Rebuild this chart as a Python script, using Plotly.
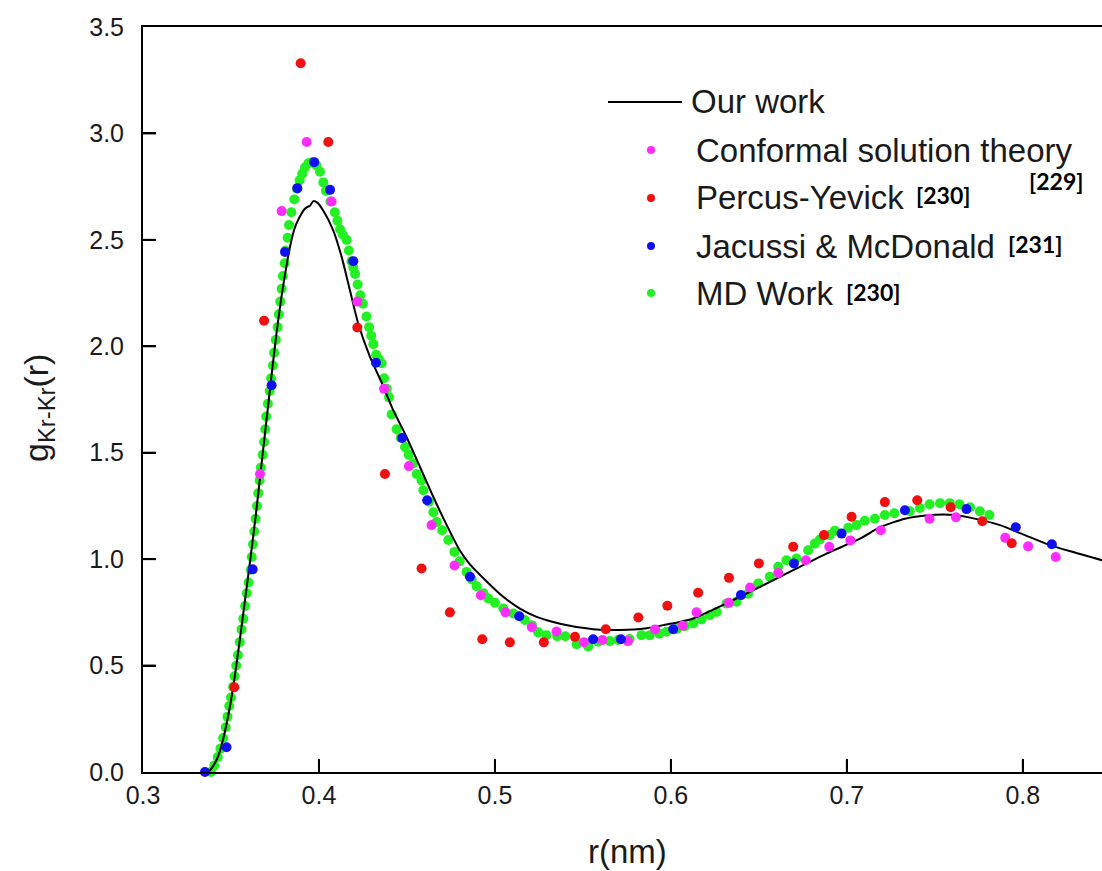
import plotly.graph_objects as go

# ---------------- data ----------------
our_x = [0.333, 0.337, 0.340, 0.343, 0.346, 0.349, 0.352, 0.355, 0.358, 0.361, 0.364, 0.367,
         0.370, 0.373, 0.376, 0.379, 0.382, 0.3835, 0.386, 0.389, 0.392, 0.3935, 0.3949, 0.3968,
         0.399, 0.4024, 0.4081, 0.4129, 0.4176, 0.4223, 0.429, 0.4356, 0.4422, 0.4498, 0.4574,
         0.465, 0.4726, 0.480, 0.4858, 0.4953, 0.5047, 0.5142, 0.5237, 0.5331, 0.5426, 0.5558,
         0.571, 0.5862, 0.5975, 0.6051, 0.6127, 0.6316, 0.6506, 0.6695, 0.6884, 0.7074, 0.7188,
         0.733, 0.745, 0.755, 0.7614, 0.770, 0.787, 0.8005, 0.8153, 0.830, 0.845, 0.850]
our_y = [0.0, 0.0, 0.03, 0.08, 0.17, 0.29, 0.44, 0.62, 0.81, 1.00, 1.20, 1.42,
         1.64, 1.86, 2.07, 2.25, 2.40, 2.466, 2.55, 2.607, 2.646, 2.655, 2.66, 2.682,
         2.675, 2.638, 2.545, 2.42, 2.263, 2.107, 1.95, 1.83, 1.70, 1.574, 1.433,
         1.292, 1.16, 1.042, 0.975, 0.895, 0.823, 0.768, 0.729, 0.705, 0.687, 0.671,
         0.667, 0.675, 0.693, 0.705, 0.721, 0.792, 0.87, 0.948, 1.026, 1.096, 1.15,
         1.19, 1.205, 1.21, 1.207, 1.195, 1.16, 1.115, 1.066, 1.03, 0.995, 0.98]

cst_x = [0.3665, 0.3788, 0.393, 0.4072, 0.4218, 0.437, 0.4511, 0.464, 0.477, 0.492, 0.506,
         0.521, 0.535, 0.5506, 0.5612, 0.5756, 0.591, 0.6067, 0.6146, 0.633, 0.645, 0.661,
         0.6767, 0.690, 0.702, 0.7193, 0.747, 0.762, 0.790, 0.803, 0.8187]
cst_y = [1.40, 2.635, 2.96, 2.68, 2.21, 1.80, 1.437, 1.16, 0.97, 0.83, 0.75,
         0.68, 0.66, 0.61, 0.62, 0.615, 0.67, 0.687, 0.75, 0.795, 0.867, 0.935,
         0.995, 1.058, 1.088, 1.136, 1.19, 1.197, 1.10, 1.06, 1.01]

py_x = [0.3519, 0.3688, 0.3896, 0.4053, 0.4218, 0.4375, 0.4583, 0.4744, 0.4928, 0.5085,
        0.5278, 0.5455, 0.563, 0.5815, 0.598, 0.6155, 0.633, 0.650, 0.6695, 0.687, 0.7027,
        0.7216, 0.740, 0.759, 0.777, 0.7937]
py_y = [0.398, 2.12, 3.33, 2.96, 2.088, 1.40, 0.956, 0.75, 0.624, 0.609,
        0.609, 0.635, 0.671, 0.726, 0.781, 0.842, 0.912, 0.98, 1.058, 1.113, 1.199,
        1.268, 1.277, 1.244, 1.178, 1.075]

jm_x = [0.3352, 0.3475, 0.3623, 0.3731, 0.3807, 0.3877, 0.3973, 0.4063, 0.4195, 0.4324,
        0.4473, 0.4615, 0.4858, 0.5138, 0.5558, 0.5716, 0.6013, 0.6398, 0.6699, 0.697,
        0.733, 0.768, 0.796, 0.8165]
jm_y = [0.0, 0.116, 0.952, 1.817, 2.443, 2.743, 2.865, 2.735, 2.40, 1.923,
        1.569, 1.277, 0.917, 0.732, 0.624, 0.624, 0.671, 0.831, 0.98, 1.12,
        1.23, 1.235, 1.15, 1.07]

md_x = [0.3386, 0.3405, 0.3425, 0.344, 0.3455, 0.347, 0.348, 0.349, 0.350, 0.3512, 0.352,
        0.353, 0.354, 0.355, 0.356, 0.357, 0.358, 0.359, 0.360, 0.3612, 0.3618, 0.3625,
        0.3632, 0.364, 0.3648, 0.3655, 0.3663, 0.367, 0.368, 0.3688, 0.3695, 0.370, 0.371,
        0.372, 0.3728, 0.3738, 0.3745, 0.3755, 0.3765, 0.3772, 0.378, 0.3788, 0.3795,
        0.3805, 0.381, 0.3822, 0.383, 0.3843, 0.386, 0.3875, 0.389, 0.3905, 0.392, 0.394,
        0.396, 0.3985, 0.4006, 0.4025, 0.404, 0.4065, 0.409, 0.4105, 0.412, 0.4135, 0.4157,
        0.417, 0.4185, 0.4195, 0.4205, 0.422, 0.4235, 0.425, 0.427, 0.4285, 0.4297, 0.4309,
        0.4325, 0.434, 0.4356, 0.437, 0.4385, 0.4398, 0.4413, 0.4441, 0.4465, 0.4489, 0.451,
        0.4536, 0.4555, 0.4583, 0.4593, 0.4625, 0.465, 0.4669, 0.470, 0.4735, 0.477, 0.480,
        0.4839, 0.4868, 0.4896, 0.4935, 0.4962, 0.500, 0.5047, 0.5104, 0.517, 0.521, 0.5246,
        0.5293, 0.5354, 0.540, 0.5464, 0.553, 0.5587, 0.5653, 0.570, 0.5765, 0.5833, 0.588,
        0.5935, 0.5975, 0.6035, 0.608, 0.6127, 0.6174, 0.6222, 0.626, 0.6316, 0.6373, 0.6439,
        0.6496, 0.6562, 0.661, 0.6657, 0.6714, 0.678, 0.6818, 0.6847, 0.6903, 0.6932, 0.7008,
        0.7055, 0.7102, 0.7159, 0.7216, 0.727, 0.7358, 0.7415, 0.747, 0.753, 0.7585, 0.764,
        0.770, 0.7756, 0.781]
md_y = [0.0, 0.03, 0.07, 0.11, 0.16, 0.21, 0.26, 0.31, 0.35, 0.40, 0.45,
        0.50, 0.55, 0.61, 0.67, 0.72, 0.78, 0.84, 0.89, 0.95, 1.01, 1.07,
        1.13, 1.19, 1.25, 1.31, 1.37, 1.43, 1.49, 1.55, 1.61, 1.67, 1.73,
        1.79, 1.85, 1.91, 1.97, 2.03, 2.09, 2.15, 2.21, 2.27, 2.33,
        2.39, 2.45, 2.51, 2.57, 2.63, 2.69, 2.74, 2.78, 2.81, 2.84, 2.86,
        2.865, 2.85, 2.82, 2.77, 2.73, 2.68, 2.63, 2.59, 2.55, 2.525, 2.50,
        2.45, 2.40, 2.37, 2.34, 2.29, 2.24, 2.20, 2.14, 2.09, 2.05, 2.01,
        1.96, 1.94, 1.92, 1.85, 1.80, 1.76, 1.68, 1.61, 1.57, 1.527, 1.49,
        1.45, 1.40, 1.37, 1.324, 1.27, 1.22, 1.175, 1.136, 1.09, 1.034, 0.99,
        0.94, 0.905, 0.873, 0.84, 0.815, 0.795, 0.768, 0.745, 0.714, 0.69, 0.656,
        0.643, 0.638, 0.638, 0.60, 0.59, 0.612, 0.615, 0.62, 0.625, 0.643, 0.643,
        0.65, 0.659, 0.672, 0.685, 0.698, 0.717, 0.737, 0.752, 0.792, 0.80, 0.838,
        0.885, 0.917, 0.964, 0.995, 1.003, 1.042, 1.073, 1.092, 1.113, 1.133, 1.147,
        1.16, 1.18, 1.19, 1.207, 1.216, 1.225, 1.24, 1.258, 1.263, 1.263, 1.258,
        1.244, 1.225, 1.207]

x_ticks = [0.3, 0.4, 0.5, 0.6, 0.7, 0.8]
y_ticks = [0.0, 0.5, 1.0, 1.5, 2.0, 2.5, 3.0, 3.5]

legend_labels = ["Our work", "Conformal solution theory", "Percus-Yevick",
                 "Jacussi & McDonald", "MD Work"]
refs = ["[229]", "[230]", "[231]", "[230]"]

C_MAG, C_RED, C_BLUE, C_GREEN = "#ff2cff", "#f01010", "#1010f0", "#22f022"

# ---------------- figure ----------------
W, H = 1102, 871
L, R, T, B = 143, 0, 27, 99
PW, PH = W - L - R, H - T - B

def px(x):
    return (x - L) / PW

def py(y):
    return (H - B - y) / PH

fig = go.Figure()
fig.add_trace(go.Scatter(x=md_x, y=md_y, mode="markers", cliponaxis=False,
                         marker=dict(color=C_GREEN, size=10), showlegend=False))
fig.add_trace(go.Scatter(x=our_x, y=our_y, mode="lines", line_shape="spline",
                         line=dict(color="black", width=2, smoothing=0.6), showlegend=False))
fig.add_trace(go.Scatter(x=cst_x, y=cst_y, mode="markers", cliponaxis=False,
                         marker=dict(color=C_MAG, size=10), showlegend=False))
fig.add_trace(go.Scatter(x=py_x, y=py_y, mode="markers", cliponaxis=False,
                         marker=dict(color=C_RED, size=10), showlegend=False))
fig.add_trace(go.Scatter(x=jm_x, y=jm_y, mode="markers", cliponaxis=False,
                         marker=dict(color=C_BLUE, size=10), showlegend=False))

FONT = "Liberation Sans, Arial, sans-serif"
TXT = "#1a1a1a"
shapes = []
annotations = []

# inside tick marks, placed through the axis scales at the tick values
for v in x_ticks[1:]:
    shapes.append(dict(type="line", xref="x", yref="paper", ysizemode="pixel", yanchor=0,
                       x0=v, x1=v, y0=0, y1=13, line=dict(color="black", width=2)))
for v in y_ticks[1:-1]:
    shapes.append(dict(type="line", xref="paper", yref="y", xsizemode="pixel", xanchor=0,
                       x0=0, x1=13, y0=v, y1=v, line=dict(color="black", width=2)))

# legend: line sample
shapes.append(dict(type="line", xref="paper", yref="paper",
                   x0=px(608), x1=px(682), y0=py(102), y1=py(102),
                   line=dict(color="black", width=2)))
annotations.append(dict(xref="paper", yref="paper", x=px(689), y=py(102),
                        text=legend_labels[0], showarrow=False, xanchor="left",
                        yanchor="middle", font=dict(family=FONT, size=33, color=TXT)))
leg_rows = [(150, C_MAG), (198, C_RED), (246, C_BLUE), (293, C_GREEN)]
for (yy, col), lab in zip(leg_rows, legend_labels[1:]):
    shapes.append(dict(type="circle", xref="paper", yref="paper",
                       xsizemode="pixel", ysizemode="pixel",
                       xanchor=px(651), yanchor=py(yy),
                       x0=-4, x1=4, y0=-4, y1=4,
                       fillcolor=col, line=dict(width=0)))
    annotations.append(dict(xref="paper", yref="paper", x=px(694), y=py(yy),
                            text=lab, showarrow=False, xanchor="left", yanchor="middle",
                            font=dict(family=FONT, size=33, color=TXT)))

REF_FONT = dict(family="Lato, Open Sans, sans-serif", size=23, color="black", weight="bold")
for (xx, yy), t in zip([(1027, 181), (914, 195), (1006, 244), (844, 292)], refs):
    annotations.append(dict(xref="paper", yref="paper", x=px(xx), y=py(yy),
                            text="<b>" + t + "</b>", showarrow=False, xanchor="left",
                            yanchor="middle", font=REF_FONT))

# axis titles
annotations.append(dict(xref="paper", yref="paper", x=px(627), y=py(851),
                        text="r(nm)", showarrow=False, xanchor="center", yanchor="middle",
                        font=dict(family=FONT, size=33, color=TXT)))
annotations.append(dict(xref="paper", yref="paper", x=px(38), y=py(408),
                        text="g<sub>Kr-Kr</sub>(r)", showarrow=False, textangle=-90,
                        xanchor="center", yanchor="middle",
                        font=dict(family=FONT, size=34, color=TXT)))

fig.update_layout(
    width=W, height=H,
    margin=dict(l=L, r=R, t=T, b=B),
    plot_bgcolor="white",
    shapes=shapes, annotations=annotations,
    xaxis=dict(range=[0.3, 0.845], tickvals=x_ticks, tickformat=".1f",
               ticks="inside", ticklen=13, tickwidth=2, tickcolor="black",
               showline=True, linecolor="black", linewidth=2, mirror=True,
               showgrid=False, zeroline=False,
               tickfont=dict(family=FONT, size=25, color=TXT)),
    yaxis=dict(range=[0, 3.5], tickvals=y_ticks, tickformat=".1f",
               ticks="inside", ticklen=13, tickwidth=2, tickcolor="black",
               showline=True, linecolor="black", linewidth=2,
               showgrid=False, zeroline=False, ticklabelstandoff=12,
               tickfont=dict(family=FONT, size=25, color=TXT)),
)

fig.write_html("out.html")
